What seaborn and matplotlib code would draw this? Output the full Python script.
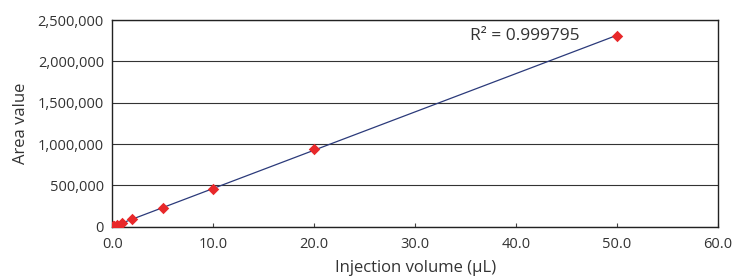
import numpy as np
import pandas as pd
import matplotlib
matplotlib.use("Agg")
import matplotlib.pyplot as plt
import seaborn as sns
from matplotlib.ticker import FuncFormatter

# calibration points
volume_ul = [0.1, 0.2, 0.5, 1.0, 2.0, 5.0, 10.0, 20.0, 50.0]
area_value = [4600, 9200, 23000, 46000, 92000, 230000, 460000, 945000, 2310000]
r2_label = "R\u00b2 = 0.999795"

df = pd.DataFrame({"vol": volume_ul, "area": area_value})

sns.set_theme(style="white")
plt.rcParams["font.family"] = ["Open Sans", "DejaVu Sans"]

fig, ax = plt.subplots(figsize=(7.34, 2.79), dpi=100)
fig.subplots_adjust(left=0.153, right=0.978, top=0.928, bottom=0.187)

sns.regplot(data=df, x="vol", y="area", ax=ax, ci=None, truncate=True,
            marker="D",
            scatter_kws=dict(color="#e8282a", s=34, zorder=3, linewidths=0, alpha=1),
            line_kws=dict(color="#2b3a7a", lw=0.9, zorder=2))

ax.set_xlim(0, 60)
ax.set_ylim(0, 2500000)
ax.set_xticks(np.arange(0, 61, 10))
ax.set_yticks(np.arange(0, 2500001, 500000))
ax.xaxis.set_major_formatter(FuncFormatter(lambda v, p: f"{v:.1f}"))
ax.yaxis.set_major_formatter(FuncFormatter(lambda v, p: f"{int(v):,}"))
ax.yaxis.grid(True, color="#333333", lw=0.8)
ax.set_axisbelow(True)

for s in ax.spines.values():
    s.set_color("#222222")
    s.set_linewidth(1.0)

ax.tick_params(axis="x", direction="in", length=3, width=0.8, color="#444444",
               labelsize=10.5, labelcolor="#333333", pad=7, bottom=True)
ax.tick_params(axis="y", length=0, labelsize=10.5, labelcolor="#333333", pad=6)

ax.set_xlabel("Injection volume (\u03bcL)", fontsize=12, color="#333333", labelpad=6)
ax.set_ylabel("Area value", fontsize=12, color="#333333", labelpad=6)

ax.text(35.4, 2310000, r2_label, fontsize=12.5, color="#333333", va="center", ha="left")

fig.savefig("out.png", dpi=100)
